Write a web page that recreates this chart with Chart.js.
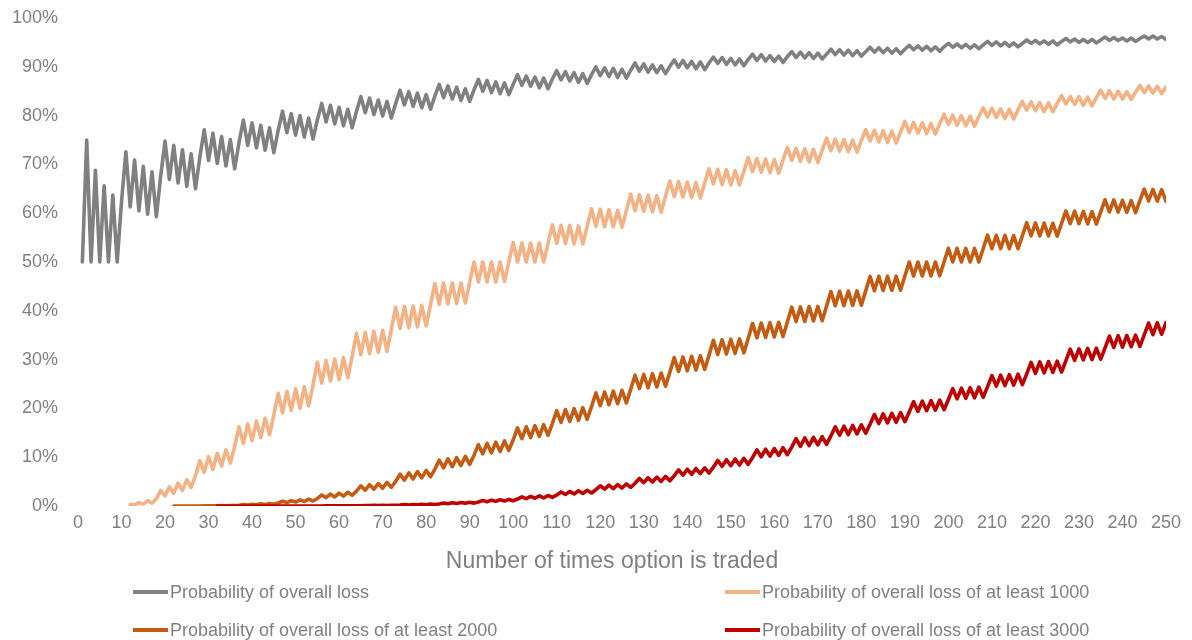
<!DOCTYPE html>
<html><head><meta charset="utf-8">
<script src="https://cdn.jsdelivr.net/npm/chart.js@4/dist/chart.umd.min.js"></script>
<style>
html,body{margin:0;padding:0;background:#fff;}
#wrap{position:relative;width:1192px;height:640px;overflow:hidden;}
canvas{position:absolute;left:0;top:0;}
.leg{position:absolute;font-family:"Liberation Sans",Arial,sans-serif;font-size:18px;line-height:20px;color:#808080;display:flex;align-items:center;white-space:nowrap;}
.leg i{display:inline-block;width:35px;height:4px;margin-right:2px;}
#xtitle{position:absolute;left:0;width:1224px;top:546px;text-align:center;font-family:"Liberation Sans",Arial,sans-serif;font-size:23px;line-height:28px;color:#808080;white-space:nowrap;}
</style></head><body>
<div id="wrap"><canvas id="c" width="1192" height="640"></canvas>
<div id="xtitle">Number of times option is traded</div>
<div id="legend"></div>
</div>
<script>
// Number of times the option is traded (x categories)
const trades = [1,2,3,4,5,6,7,8,9,10,11,12,13,14,15,16,17,18,19,20,21,22,23,24,25,26,27,28,29,30,31,32,33,34,35,36,37,38,39,40,41,42,43,44,45,46,47,48,49,50,51,52,53,54,55,56,57,58,59,60,61,62,63,64,65,66,67,68,69,70,71,72,73,74,75,76,77,78,79,80,81,82,83,84,85,86,87,88,89,90,91,92,93,94,95,96,97,98,99,100,101,102,103,104,105,106,107,108,109,110,111,112,113,114,115,116,117,118,119,120,121,122,123,124,125,126,127,128,129,130,131,132,133,134,135,136,137,138,139,140,141,142,143,144,145,146,147,148,149,150,151,152,153,154,155,156,157,158,159,160,161,162,163,164,165,166,167,168,169,170,171,172,173,174,175,176,177,178,179,180,181,182,183,184,185,186,187,188,189,190,191,192,193,194,195,196,197,198,199,200,201,202,203,204,205,206,207,208,209,210,211,212,213,214,215,216,217,218,219,220,221,222,223,224,225,226,227,228,229,230,231,232,233,234,235,236,237,238,239,240,241,242,243,244,245,246,247,248,249,250];

const xTickLabels = [0,10,20,30,40,50,60,70,80,90,100,110,120,130,140,150,160,170,180,190,200,210,220,230,240,250];
const yTickLabels = ['0%','10%','20%','30%','40%','50%','60%','70%','80%','90%','100%'];

const seriesNames = ['Probability of overall loss','Probability of overall loss of at least 1000','Probability of overall loss of at least 2000','Probability of overall loss of at least 3000'];
const seriesColors = ['#808080','#F4B183','#C55A11','#C00000'];

// Probability of overall loss (%)
const probLoss = [
50.0,75.0,50.0,68.8,50.0,65.6,50.0,63.7,50.0,62.3,
72.6,61.3,70.9,60.5,69.6,59.8,68.5,59.3,67.6,74.8,
66.9,73.9,66.2,73.0,65.5,72.2,65.0,71.5,77.1,70.8,
76.4,70.2,75.7,69.7,75.1,69.1,74.5,79.1,73.9,78.5,
73.4,78.0,72.9,77.5,72.4,77.0,80.9,76.5,80.4,76.0,
80.0,75.6,79.5,75.2,79.1,82.5,78.7,82.1,78.3,81.7,
77.9,81.3,77.5,80.9,83.9,80.6,83.6,80.2,83.2,79.9,
82.9,79.5,82.5,85.2,82.2,84.9,81.9,84.6,81.6,84.3,
81.3,84.0,86.4,83.7,86.1,83.4,85.8,83.1,85.5,82.9,
85.3,87.4,85.0,87.2,84.7,86.9,84.5,86.7,84.3,86.4,
88.4,86.2,88.1,86.0,87.9,85.7,87.7,85.5,87.5,89.2,
87.3,89.0,87.1,88.8,86.8,88.6,86.6,88.4,90.0,88.2,
89.8,88.0,89.7,87.8,89.5,87.7,89.3,90.8,89.1,90.6,
88.9,90.4,88.8,90.2,88.6,90.1,91.4,89.9,91.3,89.8,
91.1,89.6,91.0,89.4,90.8,92.0,90.7,91.9,90.5,91.7,
90.4,91.6,90.2,91.5,92.6,91.3,92.5,91.2,92.3,91.1,
92.2,90.9,92.1,93.1,91.9,93.0,91.8,92.9,91.7,92.8,
91.6,92.6,93.6,92.5,93.5,92.4,93.4,92.3,93.3,92.2,
93.1,94.0,93.0,93.9,92.9,93.8,92.8,93.7,92.7,93.6,
94.4,93.5,94.3,93.4,94.2,93.3,94.1,93.2,94.1,94.8,
94.0,94.7,93.9,94.6,93.8,94.5,93.7,94.5,95.2,94.4,
95.1,94.3,95.0,94.2,94.9,94.1,94.8,95.5,94.8,95.4,
94.7,95.3,94.6,95.3,94.5,95.2,95.8,95.1,95.7,95.0,
95.6,95.0,95.6,94.9,95.5,96.1,95.4,96.0,95.4,95.9,
95.3,95.9,95.2,95.8,96.3,95.7,96.3,95.7,96.2,95.6];

// Probability of overall loss of at least 1000 (%)
const probLoss1000 = [
null,null,null,null,null,null,null,null,null,null,
null,0.3,0.2,0.7,0.4,1.1,0.6,1.5,3.2,2.1,
3.9,2.6,4.7,3.2,5.4,3.8,6.2,9.3,6.9,10.1,
7.5,10.8,8.2,11.5,8.8,12.2,16.2,12.8,16.8,13.4,
17.4,14.0,18.0,14.6,18.6,23.1,19.1,23.5,19.6,24.0,
20.0,24.4,20.5,24.8,29.5,25.2,29.8,25.6,30.1,25.9,
30.4,26.3,30.7,35.4,31.0,35.6,31.2,35.8,31.5,36.0,
31.7,36.2,40.7,36.4,40.9,36.5,41.0,36.7,41.1,36.9,
41.2,45.6,41.3,45.7,41.4,45.7,41.5,45.7,41.6,45.8,
50.0,45.9,50.0,45.9,50.0,45.9,50.0,46.0,50.0,54.0,
50.0,53.9,50.0,53.9,50.0,53.9,50.0,53.8,57.6,53.8,
57.5,53.8,57.5,53.7,57.4,53.7,57.3,60.9,57.3,60.8,
57.2,60.7,57.2,60.6,57.1,60.5,63.9,60.5,63.8,60.4,
63.7,60.3,63.6,60.2,63.5,66.6,63.4,66.5,63.3,66.4,
63.2,66.3,63.1,66.2,69.1,66.0,69.0,65.9,68.9,65.8,
68.7,65.8,68.6,71.4,68.5,71.2,68.4,71.1,68.3,71.0,
68.2,70.9,73.5,70.8,73.3,70.6,73.2,70.5,73.1,70.4,
72.9,75.4,72.8,75.2,72.7,75.1,72.6,75.0,72.5,74.9,
77.1,74.8,77.0,74.6,76.9,74.5,76.8,74.4,76.6,78.8,
76.5,78.6,76.4,78.5,76.3,78.4,76.2,78.3,80.3,78.2,
80.1,78.0,80.0,77.9,79.9,77.8,79.8,81.6,79.7,81.5,
79.6,81.4,79.4,81.3,79.3,81.2,82.9,81.1,82.8,81.0,
82.7,80.8,82.6,80.8,82.5,84.1,82.4,83.9,82.3,83.9,
82.1,83.8,82.0,83.7,85.2,83.5,85.1,83.4,85.0,83.4,
84.9,83.3,84.8,86.2,84.7,86.1,84.6,86.0,84.5,85.9];

// Probability of overall loss of at least 2000 (%)
const probLoss2000 = [
null,null,null,null,null,null,null,null,null,null,
null,null,null,null,null,null,null,null,null,null,
null,0.0,0.0,0.0,0.0,0.0,0.0,0.01,0.03,0.02,
0.04,0.03,0.07,0.04,0.09,0.08,0.15,0.29,0.20,0.36,
0.25,0.44,0.30,0.52,0.36,0.61,0.98,0.71,1.11,0.81,
1.25,0.92,1.40,1.03,1.55,2.25,1.70,2.44,1.86,2.64,
2.02,2.84,2.19,3.04,4.12,3.24,4.36,3.45,4.60,3.65,
4.83,3.85,5.06,6.54,5.30,6.80,5.54,7.05,5.76,7.31,
5.99,7.55,9.39,7.81,9.65,8.05,9.91,8.29,10.17,8.53,
10.42,12.57,10.67,12.82,10.91,13.08,11.16,13.33,11.39,13.57,
15.99,13.81,16.23,14.03,16.46,14.27,16.68,14.50,16.90,19.54,
17.13,19.77,17.34,19.96,17.56,20.16,17.77,20.38,23.17,20.57,
23.36,20.76,23.54,20.95,23.71,21.13,23.89,26.80,24.07,26.96,
24.23,27.12,24.39,27.26,24.55,27.43,30.41,27.56,30.54,27.70,
30.68,27.86,30.78,27.99,30.92,33.95,31.03,34.05,31.14,34.16,
31.28,34.24,31.38,34.35,37.40,34.46,37.48,34.53,37.56,34.64,
37.64,34.72,37.71,40.75,37.79,40.79,37.83,40.87,37.91,40.90,
37.98,40.94,43.96,41.02,44.00,41.06,44.04,41.10,44.08,41.14,
44.08,47.05,44.12,47.06,44.16,47.08,44.19,47.09,44.23,47.11,
50.0,47.12,50.0,47.13,50.0,47.15,50.0,47.17,50.0,52.82,
50.0,52.81,50.0,52.79,50.0,52.78,50.0,52.76,55.50,52.75,
55.48,52.74,55.45,52.73,55.42,52.71,55.40,58.05,55.37,58.02,
55.35,57.98,55.33,57.94,55.30,57.91,60.47,57.87,60.42,57.84,
60.38,57.81,60.33,57.77,60.29,62.76,60.25,62.71,60.21,62.65,
60.17,62.60,60.13,62.56,64.92,62.51,64.87,62.46,64.81,62.41];

// Probability of overall loss of at least 3000 (%)
const probLoss3000 = [
null,null,null,null,null,null,null,null,null,null,
null,null,null,null,null,null,null,null,null,null,
null,null,null,null,null,null,null,null,null,null,
null,0,0,0,0,0,0,0,0,0,
0,0,0,0,0,0,0,0.005,0.003,0.007,
0.004,0.009,0.006,0.012,0.008,0.015,0.029,0.020,0.036,0.025,
0.044,0.030,0.053,0.037,0.063,0.105,0.074,0.12,0.087,0.14,
0.10,0.16,0.12,0.18,0.28,0.21,0.31,0.23,0.35,0.26,
0.38,0.29,0.42,0.60,0.46,0.66,0.50,0.71,0.55,0.77,
0.59,0.82,1.13,0.88,1.20,0.95,1.27,1.01,1.35,1.07,
1.43,1.88,1.51,1.97,1.59,2.07,1.67,2.16,1.76,2.26,
2.88,2.36,3.00,2.46,3.11,2.56,3.22,2.66,3.34,4.14,
3.45,4.27,3.57,4.40,3.68,4.52,3.80,4.66,5.65,4.79,
5.79,4.91,5.93,5.04,6.07,5.17,6.20,7.39,6.34,7.54,
6.48,7.68,6.62,7.83,6.75,7.97,9.34,8.12,9.49,8.26,
9.64,8.40,9.78,8.54,9.94,11.49,10.08,11.64,10.22,11.78,
10.37,11.94,10.51,12.08,13.79,12.22,13.94,12.36,14.07,12.51,
14.21,12.63,14.36,16.21,14.50,16.36,14.64,16.50,14.78,16.63,
14.90,16.75,18.75,16.90,18.89,17.03,19.00,17.16,19.13,17.28,
19.27,21.36,19.38,21.48,19.52,21.60,19.63,21.71,19.74,21.83,
24.04,21.95,24.14,22.07,24.26,22.18,24.35,22.27,24.45,26.73,
24.57,26.83,24.67,26.93,24.76,27.03,24.86,27.09,29.43,27.19,
29.53,27.29,29.60,27.39,29.70,27.46,29.77,32.13,29.84,32.20,
29.94,32.28,30.01,32.35,30.08,32.42,34.83,32.49,34.90,32.56,
34.94,32.64,35.01,32.71,35.08,37.49,35.12,37.54,35.20,37.60];

const allSeries = [probLoss, probLoss1000, probLoss2000, probLoss3000];
const FONT = '"Liberation Sans", Arial, sans-serif';
const TEXT = '#808080';

function toPoints(arr){ return trades.map((n,i)=>({x:n, y:arr[i]})); }

const datasets = allSeries.map((arr,i)=>({
  label: seriesNames[i],
  data: toPoints(arr),
  borderColor: seriesColors[i],
  backgroundColor: seriesColors[i],
  borderWidth: 3.6,
  pointRadius: 0,
  tension: 0,
  fill: false,
  spanGaps: false,
  order: 4 - i
}));

new Chart(document.getElementById('c'), {
  type: 'line',
  data: { datasets },
  options: {
    responsive: false,
    animation: false,
    devicePixelRatio: 1,
    layout: { padding: { left: 0, right: 26, top: 18, bottom: 59 } },
    plugins: { legend: { display: false }, tooltip: { enabled: false } },
    elements: { line: { borderCapStyle: 'round', borderJoinStyle: 'round' } },
    scales: {
      x: {
        type: 'linear', min: 0, max: 250,
        afterBuildTicks(s){ s.ticks = xTickLabels.map(v=>({value:v})); },
        ticks: { color: TEXT, font: { family: FONT, size: 18 }, padding: 6, maxRotation: 0, autoSkip: false },
        grid: { display: false, drawTicks: false },
        border: { display: false },
        afterFit(s){ s.height = 75; }
      },
      y: {
        min: 0, max: 100,
        afterBuildTicks(s){ s.ticks = yTickLabels.map((t,i)=>({value:i*10})); },
        ticks: { color: TEXT, font: { family: FONT, size: 18 }, padding: 20, callback: (v)=> yTickLabels[Math.round(v/10)] },
        grid: { display: false, drawTicks: false },
        border: { display: false },
        afterFit(s){ s.width = 78; s.paddingTop = 0; s.paddingBottom = 0; }
      }
    }
  }
});

// HTML legend (two columns, two rows)
const legPos = [[133,582],[725,582],[133,620],[725,620]];
const legend = document.getElementById('legend');
seriesNames.forEach((name,i)=>{
  const d = document.createElement('div');
  d.className = 'leg';
  d.style.left = legPos[i][0] + 'px';
  d.style.top = legPos[i][1] + 'px';
  const sw = document.createElement('i');
  sw.style.background = seriesColors[i];
  d.appendChild(sw);
  d.appendChild(document.createTextNode(name));
  legend.appendChild(d);
});
</script>
</body></html>
